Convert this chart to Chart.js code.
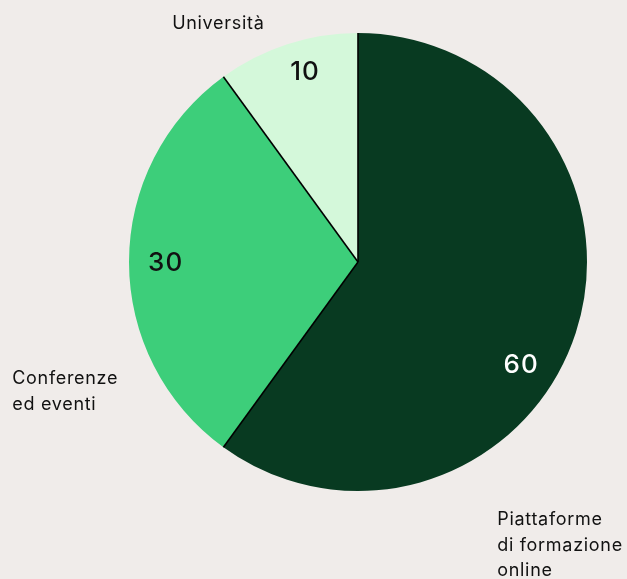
<!DOCTYPE html>
<html>
<head>
<meta charset="utf-8">
<script src="https://cdn.jsdelivr.net/npm/chart.js@4"></script>
<style>
html,body{margin:0;padding:0;background:#f0ecea;}
#wrap{width:627px;height:579px;position:relative;}
</style>
</head>
<body>
<div id="wrap"><canvas id="c"></canvas></div>
<script>
const categories = ["Piattaforme\ndi formazione\nonline", "Conferenze\ned eventi", "Università"];
const values = [60, 30, 10];
const sliceColors = ["#083a21", "#3dce7a", "#d4f8da"];
const valueTextColors = ["#ffffff", "#111111", "#111111"];

// label placement: value label [angle offset deg from start (clockwise from top), radius fraction]
const valuePlace = [[122, 0.84], [54, 0.84], [20.5, 0.865]];
// category label: anchor relative to center in radius units, alignment
const catPlace = [
  {dx: 0.608, dy: 1.125, align: "left"},
  {dx: -1.51, dy: 0.51, align: "left"},
  {dx: -0.61, dy: -1.04, align: "center"}
];

const FONT = "Inter, 'Liberation Sans', sans-serif";

const overlay = {
  id: "overlay",
  afterDatasetsDraw(chart) {
    const ctx = chart.ctx;
    const meta = chart.getDatasetMeta(0);
    ctx.save();
    ctx.strokeStyle = "#000";
    ctx.lineWidth = 1.6;
    meta.data.forEach((arc) => {
      const p = arc.getProps(["x","y","startAngle","outerRadius"], true);
      ctx.beginPath();
      ctx.moveTo(p.x, p.y);
      ctx.lineTo(p.x + Math.cos(p.startAngle) * p.outerRadius, p.y + Math.sin(p.startAngle) * p.outerRadius);
      ctx.stroke();
    });
    ctx.font = "500 26px " + FONT;
    ctx.letterSpacing = "1px";
    ctx.textAlign = "center";
    ctx.textBaseline = "middle";
    meta.data.forEach((arc, i) => {
      const p = arc.getProps(["x","y","startAngle","endAngle","outerRadius"], true);
      const a = p.startAngle + valuePlace[i][0] * Math.PI / 180;
      const r = p.outerRadius * valuePlace[i][1];
      ctx.fillStyle = valueTextColors[i];
      ctx.fillText(String(values[i]), p.x + Math.cos(a) * r, p.y + Math.sin(a) * r + 1);
    });
    ctx.font = "400 18px " + FONT;
    ctx.letterSpacing = "0.7px";
    ctx.fillStyle = "#111111";
    meta.data.forEach((arc, i) => {
      const p = arc.getProps(["x","y","outerRadius"], true);
      const pl = catPlace[i];
      const lines = categories[i].split("\n");
      ctx.textAlign = pl.align;
      const x = p.x + pl.dx * p.outerRadius;
      const y0 = p.y + pl.dy * p.outerRadius;
      lines.forEach((ln, k) => ctx.fillText(ln, x, y0 + k * 25.5));
    });
    ctx.restore();
  }
};

new Chart(document.getElementById("c"), {
  type: "pie",
  data: {
    labels: categories,
    datasets: [{
      data: values,
      backgroundColor: sliceColors,
      borderWidth: 0
    }]
  },
  options: {
    responsive: true,
    maintainAspectRatio: false,
    animation: false,
    layout: {padding: {left: 129, right: 40, top: 33, bottom: 88}},
    plugins: {legend: {display: false}, tooltip: {enabled: false}}
  },
  plugins: [overlay]
});
</script>
</body>
</html>
